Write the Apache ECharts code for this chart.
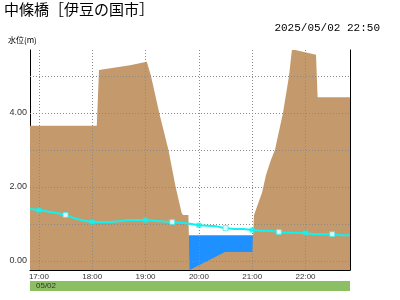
<!DOCTYPE html>
<html><head><meta charset="utf-8">
<script src="https://cdn.jsdelivr.net/npm/echarts@6/dist/echarts.min.js"></script>
<style>html,body{margin:0;padding:0;background:#fff}#c{width:400px;height:300px}</style>
</head><body><div id="c"></div>
<script>
const titleText = '中條橋［伊豆の国市］';
const stampText = '2025/05/02 22:50';
const yName = '水位(m)';
const dateLabel = '05/02';

// water level readings (10 min)
const times = ['16:50','17:00','17:10','17:20','17:30','17:40','17:50','18:00','18:10','18:20','18:30','18:40','18:50',
  '19:00','19:10','19:20','19:30','19:40','19:50','20:00','20:10','20:20','20:30','20:40','20:50',
  '21:00','21:10','21:20','21:30','21:40','21:50','22:00','22:10','22:20','22:30','22:40','22:50'];
const levels = [1.40,1.37,1.33,1.29,1.24,1.15,1.09,1.05,1.05,1.05,1.07,1.10,1.10,
  1.10,1.08,1.06,1.05,1.03,1.00,0.96,0.95,0.93,0.88,0.86,0.86,
  0.83,0.81,0.81,0.78,0.76,0.76,0.75,0.72,0.72,0.72,0.69,0.69];
const filledMarkTimes = ['17:00','18:00','19:00','20:00','21:00','22:00'];
const hollowMarkTimes = ['17:30','19:30','20:30','21:30','22:30'];

// river cross-section (distance m, elevation m)
const sectionDist = [0,16.7,17.25,25,29.2,30.25,32.3,34.6,36.4,37.9,38.25,39.6,39.9,48.75,55.6,56,58,59,60.25,61.25,63.25,64.75,65.5,71.5,71.9,80];
const sectionElev = [3.65,3.65,5.16,5.29,5.38,5.0,4.0,3.0,2.0,1.30,1.24,1.24,-0.25,0.24,0.24,1.24,1.84,2.32,2.73,3.0,4.0,5.0,5.72,5.57,4.42,4.42];
const channelEdges = [39.6, 56];

const gridLevels = [0,1,2,3,4,5];
const gridHours = ['17:00','18:00','19:00','20:00','21:00','22:00'];
const yLabelValues = [0,2,4];
const timeRange = ['16:50','22:50'];
const yRange = [-0.25, 5.7];

const toMin = s => { const p = s.split(':'); return (+p[0]) * 60 + (+p[1]); };
const fmtTime = v => { const h = Math.floor(v/60), m = v%60; return h + ':' + (m<10?'0':'') + m; };

const lineData = times.map((t,i) => [toMin(t), levels[i]]);
const hourMarks = lineData.filter((d,i) => filledMarkTimes.includes(times[i]));
const halfMarks = lineData.filter((d,i) => hollowMarkTimes.includes(times[i]));
const terrain = sectionDist.map((d,i) => [d, sectionElev[i]]);
const wl = levels[levels.length-1];
const water = channelEdges.map(d => [d, wl]);

const gridColor = '#8a8a8a';
const chart = echarts.init(document.getElementById('c'), null, {renderer:'canvas'});
chart.setOption({
  animation: false,
  backgroundColor: '#fff',
  grid: {left: 30, right: 50, top: 50, bottom: 30},
  xAxis: [
    {type:'value', min: toMin(timeRange[0]), max: toMin(timeRange[1]), interval: 10,
     axisLine:{show:true, onZero:false, lineStyle:{color:'#000', width:1}}, axisTick:{show:false},
     splitLine:{show:false},
     axisLabel:{margin:3, fontSize:8, color:'#333', fontFamily:'Liberation Sans',
       formatter: v => (v % 60 === 0 ? fmtTime(v) : '')}},
    {type:'value', min: 0, max: 80, show:false}
  ],
  yAxis: [
    {type:'value', min: yRange[0], max: yRange[1], interval: 0.25,
     axisLine:{show:true, onZero:false, lineStyle:{color:'#000', width:1}}, axisTick:{show:false},
     splitLine:{show:false},
     axisLabel:{margin:3, fontSize:9, color:'#333', fontFamily:'Liberation Sans',
       formatter: v => (yLabelValues.some(x => Math.abs(x - v) < 1e-6) ? v.toFixed(2) : '')}},
    {type:'value', min: yRange[0], max: yRange[1], position:'right',
     axisLine:{show:true, onZero:false, lineStyle:{color:'#000', width:1}}, axisTick:{show:false},
     axisLabel:{show:false}, splitLine:{show:false}}
  ],
  series: [
    {type:'line', name:'water', xAxisIndex:1, yAxisIndex:0, data: water, symbol:'none', z:1,
     lineStyle:{width:0}, areaStyle:{color:'#1e90ff', opacity:1, origin:'start'}},
    {type:'line', name:'terrain', xAxisIndex:1, yAxisIndex:0, data: terrain, symbol:'none', z:2,
     lineStyle:{width:0}, areaStyle:{color:'#c4996c', opacity:1, origin:'start'}},
    {type:'line', name:'grid', xAxisIndex:0, yAxisIndex:0, data: [], z:3,
     markLine:{silent:true, symbol:['none','none'], label:{show:false},
       lineStyle:{color:gridColor, width:1, type:[1,2]},
       data: gridHours.map(h => ({xAxis: toMin(h)})).concat(gridLevels.map(v => ({yAxis: v})))}},
    {type:'line', name:'level', xAxisIndex:0, yAxisIndex:0, data: lineData, symbol:'none', z:6,
     lineStyle:{color:'#10f2f2', width:2}},
    {type:'scatter', xAxisIndex:0, yAxisIndex:0, data: hourMarks, symbol:'rect', symbolSize:5, z:7,
     itemStyle:{color:'#10f2f2'}},
    {type:'scatter', xAxisIndex:0, yAxisIndex:0, data: halfMarks, symbol:'rect', symbolSize:5, z:7,
     itemStyle:{color:'#ffffff', borderColor:'#40e8e8', borderWidth:1}}
  ],
  graphic: [
    {type:'text', left:4, top:2, style:{text:titleText, fontSize:15, fill:'#000', fontFamily:'Noto Sans CJK JP'}},
    {type:'text', right:20, top:23, style:{text:stampText, fontSize:11, fill:'#000', fontFamily:'Liberation Mono'}},
    {type:'text', left:8, top:36, style:{text:yName, fontSize:8, fill:'#000', fontFamily:'Noto Sans CJK JP'}},
    {type:'rect', shape:{x:30, y:281, width:320, height:10}, style:{fill:'#8cbe64'}},
    {type:'text', left:36, top:282, style:{text:dateLabel, fontSize:8, fill:'#333', fontFamily:'Liberation Sans'}}
  ]
});
</script></body></html>
